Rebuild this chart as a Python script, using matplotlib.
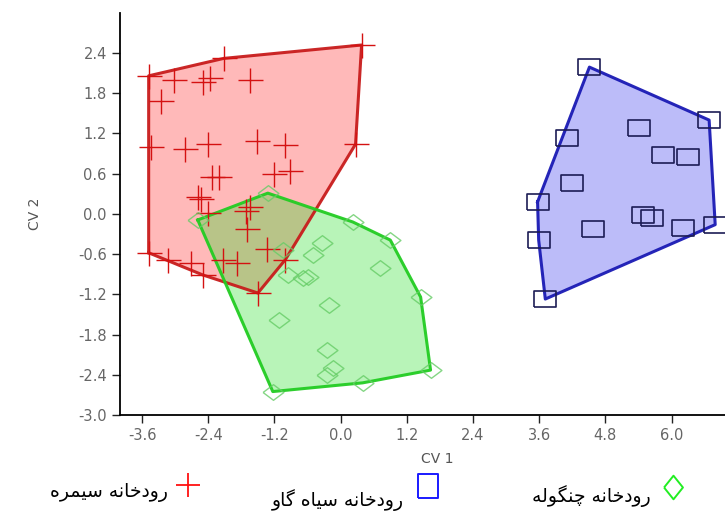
import matplotlib
matplotlib.use("Agg")
import matplotlib.pyplot as plt
import numpy as np
from matplotlib.lines import Line2D

# ---- data (CV1, CV2 scores) ----
seymareh_x = [-3.48, -2.12, 0.38, 0.27, -3.02, -2.50, -2.37, -1.65, -3.26, -3.44, -2.83, -2.41,
              -1.52, -1.00, -2.34, -2.21, -1.21, -0.92, -2.59, -2.54, -2.41, -1.72, -1.65, -1.70,
              -1.34, -3.48, -3.13, -2.72, -2.50, -2.14, -1.87, -1.50, -1.00]
seymareh_y = [2.06, 2.32, 2.52, 1.04, 2.00, 1.97, 2.03, 2.00, 1.68, 1.00, 0.97, 1.04,
              1.09, 1.03, 0.55, 0.55, 0.60, 0.64, 0.25, 0.22, 0.01, 0.05, 0.10, -0.22,
              -0.52, -0.58, -0.69, -0.73, -0.91, -0.69, -0.73, -1.18, -0.68]

siahgav_x = [4.51, 6.68, 6.79, 3.71, 3.57, 3.59, 4.11, 4.20, 5.40, 5.85, 6.30, 5.49, 5.65, 4.58, 6.21]
siahgav_y = [2.19, 1.40, -0.16, -1.27, 0.18, -0.39, 1.13, 0.46, 1.28, 0.88, 0.85, -0.01, -0.06, -0.22, -0.21]

changuleh_x = [-1.32, -2.59, 0.22, 0.90, 1.45, 1.63, 0.40, -1.23, -1.12, -0.22, 0.72, -0.33,
               -0.51, -1.05, -0.96, -0.69, -0.60, -0.24, -0.14, -0.24]
changuleh_y = [0.31, -0.09, -0.12, -0.39, -1.24, -2.33, -2.52, -2.65, -1.58, -1.36, -0.80, -0.43,
               -0.61, -0.54, -0.91, -0.95, -0.94, -2.03, -2.30, -2.40]

xticks = [-3.6, -2.4, -1.2, 0.0, 1.2, 2.4, 3.6, 4.8, 6.0]
yticks = [-3.0, -2.4, -1.8, -1.2, -0.6, 0.0, 0.6, 1.2, 1.8, 2.4]

labels = ["رودخانه سیمره", "رودخانه سیاه گاو", "رودخانه چنگوله"]


# matplotlib has no arabic shaping, so pick the presentation forms by hand
FORMS = {  # letter: (isolated, final, initial, medial) ; None -> right-joining only
    'ر': ('\uFEAD', '\uFEAE', None, None),
    'و': ('\uFEED', '\uFEEE', None, None),
    'د': ('\uFEA9', '\uFEAA', None, None),
    'ا': ('\uFE8D', '\uFE8E', None, None),
    'خ': ('\uFEA5', '\uFEA6', '\uFEA7', '\uFEA8'),
    'ن': ('\uFEE5', '\uFEE6', '\uFEE7', '\uFEE8'),
    'ه': ('\uFEE9', '\uFEEA', '\uFEEB', '\uFEEC'),
    'س': ('\uFEB1', '\uFEB2', '\uFEB3', '\uFEB4'),
    'ی': ('\uFBFC', '\uFBFD', '\uFBFE', '\uFBFF'),
    'م': ('\uFEE1', '\uFEE2', '\uFEE3', '\uFEE4'),
    'گ': ('\uFB92', '\uFB93', '\uFB94', '\uFB95'),
    'چ': ('\uFB7A', '\uFB7B', '\uFB7C', '\uFB7D'),
    'ل': ('\uFEDD', '\uFEDE', '\uFEDF', '\uFEE0'),
}


def shape(text):
    out = []
    for word in text.split(' '):
        res = ''
        for i, c in enumerate(word):
            f = FORMS[c]
            prev_joins = i > 0 and FORMS[word[i - 1]][2] is not None
            next_ok = i < len(word) - 1 and f[2] is not None
            if prev_joins and next_ok:
                res += f[3]
            elif prev_joins:
                res += f[1]
            elif next_ok:
                res += f[2]
            else:
                res += f[0]
        out.append(res)
    return ' '.join(out)[::-1]


def hull(xs, ys):
    pts = sorted(set(zip(xs, ys)))

    def cross(o, a, b):
        return (a[0] - o[0]) * (b[1] - o[1]) - (a[1] - o[1]) * (b[0] - o[0])
    lower, upper = [], []
    for p in pts:
        while len(lower) >= 2 and cross(lower[-2], lower[-1], p) <= 0:
            lower.pop()
        lower.append(p)
    for p in reversed(pts):
        while len(upper) >= 2 and cross(upper[-2], upper[-1], p) <= 0:
            upper.pop()
        upper.append(p)
    return np.array(lower[:-1] + upper[:-1])


diamond = [(-1, 0), (0, 0.75), (1, 0), (0, -0.75), (-1, 0)]
rect = [(-1, -0.7), (1, -0.7), (1, 0.7), (-1, 0.7), (-1, -0.7)]
key_rect = [(-0.85, -1), (0.85, -1), (0.85, 1), (-0.85, 1), (-0.85, -1)]
key_diamond = [(-0.8, 0), (0, 1), (0.8, 0), (0, -1), (-0.8, 0)]

fig = plt.figure(figsize=(7.25, 5.13), dpi=100)
ax = fig.add_axes([0.1655, 0.191, 0.875, 0.784])

groups = [
    (seymareh_x, seymareh_y, '#ff1a1a', '#c81c1c', 0.30),
    (changuleh_x, changuleh_y, '#22dd22', '#22cc22', 0.32),
    (siahgav_x, siahgav_y, '#2222ee', '#1a1ab4', 0.30),
]
for xs, ys, fc, ec, a in groups:
    h = hull(xs, ys)
    ax.fill(h[:, 0], h[:, 1], color=fc, alpha=a, lw=0)
    ax.plot(np.append(h[:, 0], h[0, 0]), np.append(h[:, 1], h[0, 1]), color=ec, lw=2.2, alpha=0.95)

ax.plot(seymareh_x, seymareh_y, ls='none', marker='+', ms=18, mew=1.0, color='#d41111')
ax.plot(changuleh_x, changuleh_y, ls='none', marker=diamond, ms=15, mew=1.0,
        mfc='none', mec='#66cc66', alpha=0.8)
ax.plot(siahgav_x, siahgav_y, ls='none', marker=rect, ms=16, mew=1.2,
        mfc='none', mec='#1c1c55')

ax.set_xlim(-4.0, 7.5)
ax.set_ylim(-3.0, 3.0)
ax.set_xticks(xticks)
ax.set_yticks(yticks)
ax.set_xticklabels([f"{v:.1f}" for v in xticks])
ax.set_yticklabels([f"{v:.1f}" for v in yticks])
ax.spines['top'].set_visible(False)
ax.spines['right'].set_visible(False)
ax.spines['left'].set_linewidth(1.3)
ax.spines['bottom'].set_linewidth(1.3)
ax.tick_params(direction='out', length=6, width=1, colors='#222222', labelcolor='#666666',
               labelsize=10.5)
ax.set_xlabel('CV 1', color='#555555', fontsize=10, labelpad=6)
ax.set_ylabel('CV 2', color='#555555', fontsize=10, labelpad=26)

# legend drawn under the axis, text to the left of each key
keys = [('+', '#ff1111', 188, 485, 17, 1.3),
        (key_rect, '#1a1aff', 428, 486, 17, 1.4),
        (key_diamond, '#22ee22', 673, 487, 17, 1.4)]
text_pos = [(168, 493), (404, 500), (651, 496)]
for (m, c, px, py, ms, mw), lab, (tx, ty) in zip(keys, labels, text_pos):
    fig.add_artist(Line2D([px / 725], [1 - py / 513], transform=fig.transFigure, ls='none',
                          marker=m, ms=ms, mew=mw, mfc='none', mec=c, color=c))
    fig.text(tx / 725, 1 - ty / 513, shape(lab), ha='right', va='center', fontsize=13.5,
             family='DejaVu Sans', color='black')

fig.savefig('out.png', dpi=100)
